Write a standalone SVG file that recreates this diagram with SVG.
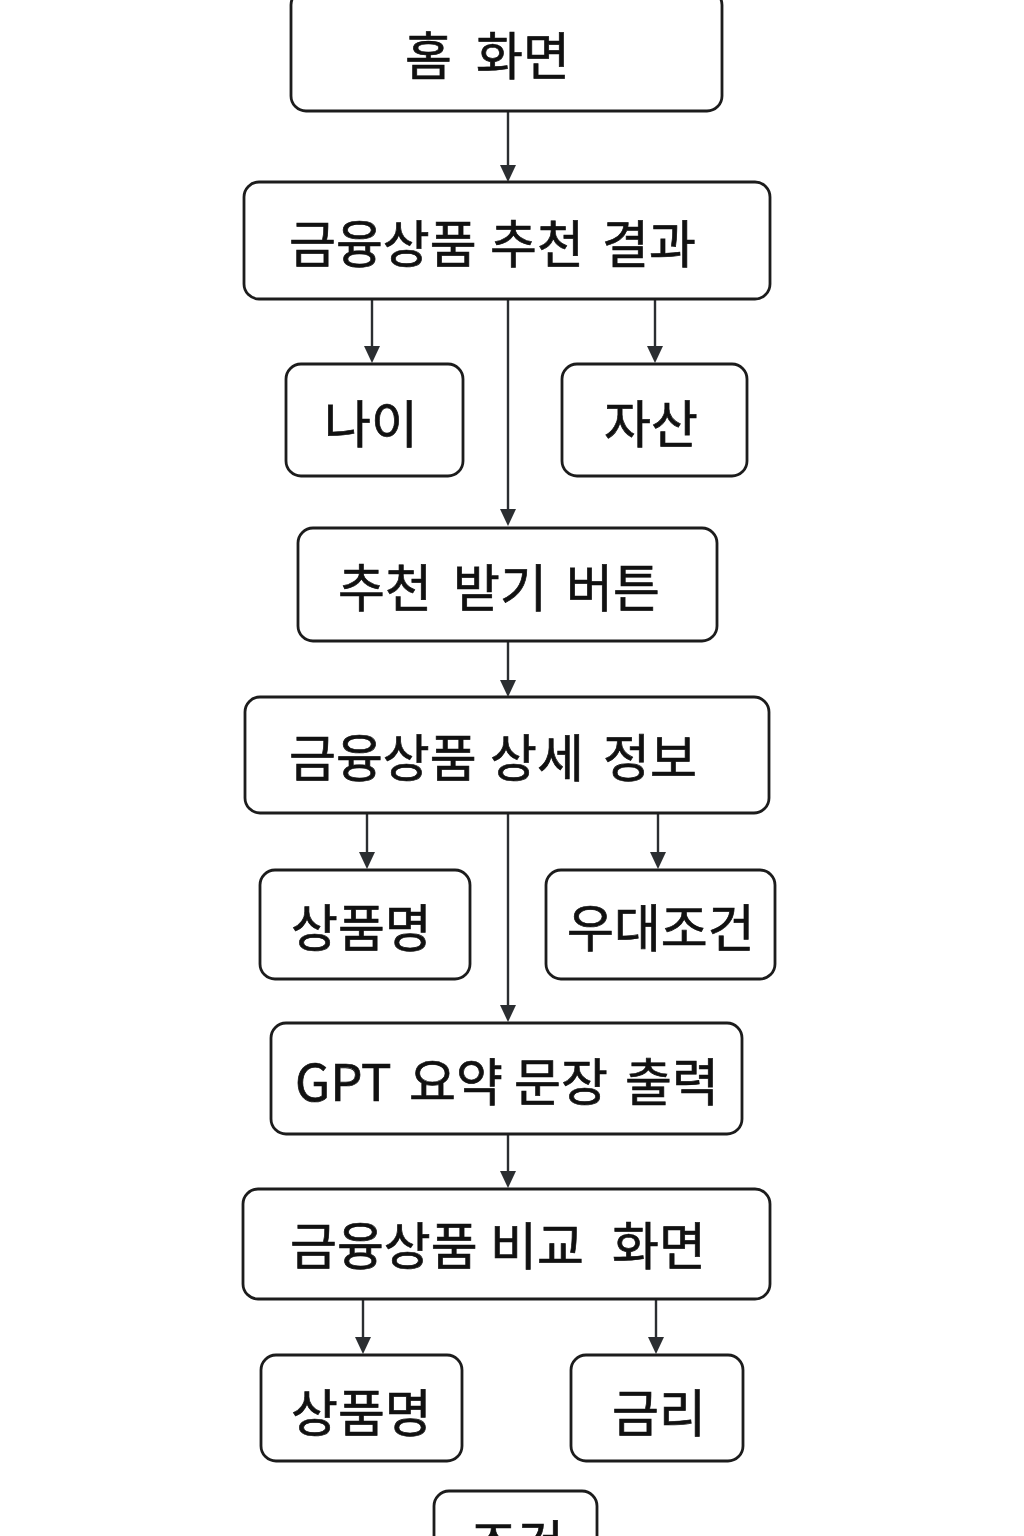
<svg xmlns="http://www.w3.org/2000/svg" width="1024" height="1536" viewBox="0 0 1024 1536">
  <defs>
    <style>
      .box { fill: #ffffff; stroke: #1c1c1c; stroke-width: 2.8; }
      .lbl { font-family: "Noto Sans CJK KR", "Noto Sans", "Liberation Sans", sans-serif; font-size: 51px; font-weight: 400; fill: #111111; stroke: #111111; stroke-width: 0.7px; }
      .conn { stroke: #2b2e31; stroke-width: 2.4; fill: none; }
      .head { fill: #2b2e31; }
    </style>
  </defs>
  <rect x="0" y="0" width="1024" height="1536" fill="#ffffff"/>

  <g id="connectors">
    <line class="conn" x1="508" y1="112" x2="508" y2="166"/>
    <line class="conn" x1="372" y1="300" x2="372" y2="347"/>
    <line class="conn" x1="508" y1="300" x2="508" y2="510"/>
    <line class="conn" x1="655" y1="300" x2="655" y2="347"/>
    <line class="conn" x1="508" y1="642" x2="508" y2="681"/>
    <line class="conn" x1="367" y1="814" x2="367" y2="853"/>
    <line class="conn" x1="508" y1="814" x2="508" y2="1006"/>
    <line class="conn" x1="658" y1="814" x2="658" y2="853"/>
    <line class="conn" x1="508" y1="1135" x2="508" y2="1172"/>
    <line class="conn" x1="363" y1="1300" x2="363" y2="1338"/>
    <line class="conn" x1="656" y1="1300" x2="656" y2="1338"/>
    <path class="head" d="M500,165 L516,165 L508,182 Z"/>
    <path class="head" d="M364,346 L380,346 L372,363 Z"/>
    <path class="head" d="M500,509 L516,509 L508,526 Z"/>
    <path class="head" d="M647,346 L663,346 L655,363 Z"/>
    <path class="head" d="M500,680 L516,680 L508,697 Z"/>
    <path class="head" d="M359,852 L375,852 L367,869 Z"/>
    <path class="head" d="M500,1005 L516,1005 L508,1022 Z"/>
    <path class="head" d="M650,852 L666,852 L658,869 Z"/>
    <path class="head" d="M500,1171 L516,1171 L508,1188 Z"/>
    <path class="head" d="M355,1337 L371,1337 L363,1354 Z"/>
    <path class="head" d="M648,1337 L664,1337 L656,1354 Z"/>
  </g>

  <g id="node-home">
    <rect class="box" x="291" y="-10" width="431" height="121" rx="15"/>
    <text class="lbl" y="75"><tspan x="405">홈</tspan> <tspan x="476">화면</tspan></text>
  </g>

  <g id="node-result">
    <rect class="box" x="244" y="182" width="526" height="117" rx="15"/>
    <text class="lbl" y="263"><tspan x="289">금융상품</tspan> <tspan x="490">추천</tspan> <tspan x="602">결과</tspan></text>
  </g>

  <g id="node-age">
    <rect class="box" x="286" y="364" width="177" height="112" rx="15"/>
    <text class="lbl" y="443"><tspan x="324">나이</tspan></text>
  </g>

  <g id="node-asset">
    <rect class="box" x="562" y="364" width="185" height="112" rx="15"/>
    <text class="lbl" y="443"><tspan x="604">자산</tspan></text>
  </g>

  <g id="node-button">
    <rect class="box" x="298" y="528" width="419" height="113" rx="15"/>
    <text class="lbl" y="607"><tspan x="338">추천</tspan> <tspan x="453">받기</tspan> <tspan x="566">버튼</tspan></text>
  </g>

  <g id="node-detail">
    <rect class="box" x="245" y="697" width="524" height="116" rx="15"/>
    <text class="lbl" y="777"><tspan x="289">금융상품</tspan> <tspan x="490">상세</tspan> <tspan x="603">정보</tspan></text>
  </g>

  <g id="node-name1">
    <rect class="box" x="260" y="870" width="210" height="109" rx="15"/>
    <text class="lbl" y="947"><tspan x="291">상품명</tspan></text>
  </g>

  <g id="node-benefit">
    <rect class="box" x="546" y="870" width="229" height="109" rx="15"/>
    <text class="lbl" y="947"><tspan x="567">우대조건</tspan></text>
  </g>

  <g id="node-gpt">
    <rect class="box" x="271" y="1023" width="471" height="111" rx="15"/>
    <text class="lbl" y="1101"><tspan x="295">GPT</tspan> <tspan x="409">요약</tspan> <tspan x="514">문장</tspan> <tspan x="625">출력</tspan></text>
  </g>

  <g id="node-compare">
    <rect class="box" x="243" y="1189" width="527" height="110" rx="15"/>
    <text class="lbl" y="1265"><tspan x="290">금융상품</tspan> <tspan x="490">비교</tspan> <tspan x="612">화면</tspan></text>
  </g>

  <g id="node-name2">
    <rect class="box" x="261" y="1355" width="201" height="106" rx="15"/>
    <text class="lbl" y="1432"><tspan x="291">상품명</tspan></text>
  </g>

  <g id="node-rate">
    <rect class="box" x="571" y="1355" width="172" height="106" rx="15"/>
    <text class="lbl" y="1432"><tspan x="612">금리</tspan></text>
  </g>

  <g id="node-cond">
    <rect class="box" x="434" y="1491" width="163" height="110" rx="15"/>
    <text class="lbl" y="1563"><tspan x="470">조건</tspan></text>
  </g>
</svg>
